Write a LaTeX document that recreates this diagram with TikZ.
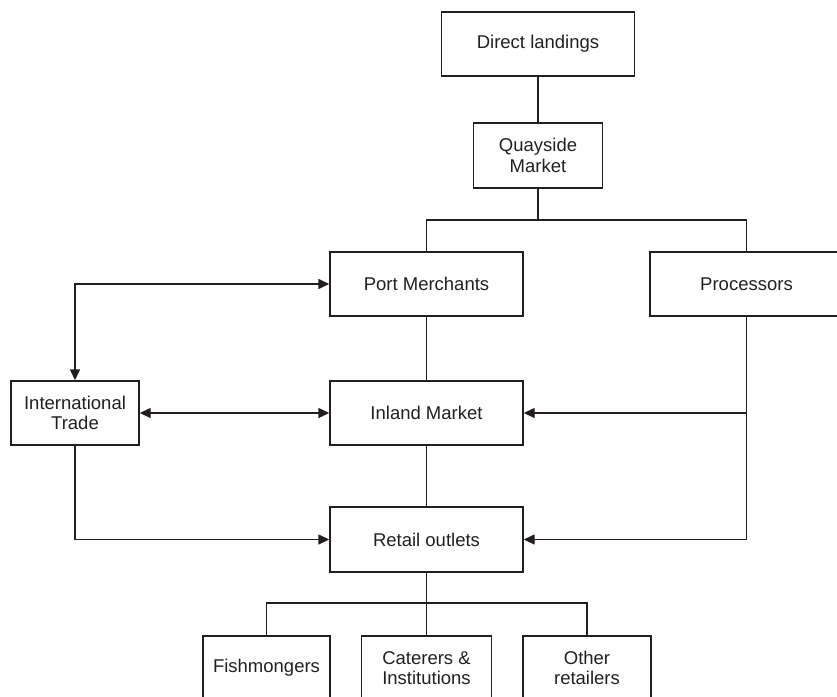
\documentclass[tikz,border=0pt]{standalone}
\usepackage{fontspec}
\setmainfont{Liberation Sans}
\usetikzlibrary{arrows.meta}
\definecolor{ink}{HTML}{231F20}
\begin{document}
\begin{tikzpicture}[x=1pt,y=-1pt,
  box/.style={draw=ink,line width=1.4pt,rectangle,minimum width=193pt,minimum height=64pt,
    inner sep=0pt,align=center,font=\fontsize{18.5}{20.5}\selectfont,text=ink},
  sbox/.style={box,minimum width=128pt},
  conn/.style={draw=ink,line width=1.4pt},
  arr/.style={conn,-{Triangle[length=11pt,width=10pt]}},
  darr/.style={conn,{Triangle[length=11pt,width=10pt]}-{Triangle[length=11pt,width=10pt]}}]
\useasboundingbox (0,0) rectangle (837,696);
\node[box] (DL) at (538,44) {Direct landings};
\node[box,minimum width=129pt,minimum height=65pt] (QM) at (538,155.5) {Quayside\\Market};
\node[box] (PM) at (426.5,284) {Port Merchants};
\node[box] (PR) at (746.5,284) {Processors};
\node[sbox] (IT) at (75,413) {International\\Trade};
\node[box] (IM) at (426.5,413) {Inland Market};
\node[box,minimum height=65pt] (RO) at (426.5,539.5) {Retail outlets};
\node[sbox,minimum width=127pt] (FM) at (266.5,668) {Fishmongers};
\node[sbox,minimum width=130pt] (CI) at (426.5,668) {Caterers \&\\Institutions};
\node[sbox] (OR) at (587,668) {Other\\retailers};
\coordinate (j1) at (538,220);
\coordinate (j2) at (426.5,603);
\coordinate (pc) at (746.5,539.5);
\coordinate (itc) at (75,284);
\coordinate (itb) at (75,539.5);
\draw[conn] (DL.south) -- (QM.north);
\draw[conn] (QM.south) -- (j1);
\draw[conn] (PM.north) |- (j1) -| (PR.north);
\draw[conn] (PM.south) -- (IM.north);
\draw[conn] (IM.south) -- (RO.north);
\draw[darr] (IT.north) -- (itc) -- (PM.west);
\draw[darr] (IT.east) -- (IM.west);
\draw[arr] (IT.south) -- (itb) -- (RO.west);
\draw[conn] (PR.south) -- (pc);
\draw[arr] (pc) -- (RO.east);
\draw[arr] (PR.south |- IM.east) -- (IM.east);
\draw[conn] (RO.south) -- (j2);
\draw[conn] (FM.north) |- (j2) -| (OR.north);
\draw[conn] (j2) -- (CI.north);
\end{tikzpicture}
\end{document}
